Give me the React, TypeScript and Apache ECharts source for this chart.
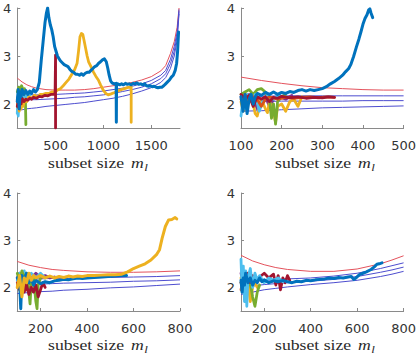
import React, { useEffect, useRef } from "react";
import * as echarts from "echarts";

type Pt = [number, number];

// MATLAB-style line colours
const BLUE = "#0072BD";
const ORANGE = "#D95319";
const YELLOW = "#EDB120";
const PURPLE = "#7E2F8E";
const GREEN = "#77AC30";
const CYAN = "#4DBEEE";
const DARKRED = "#A2142F";
const BAND_RED = "#e4525c";
const BAND_BLUE = "#4d4dcf";

// ---------- panel 1 : m from 100 to 1800 ----------
const bandX1 = [100, 150, 200, 250, 300, 400, 500, 600, 700, 800, 900, 1000, 1100, 1200, 1300, 1400, 1500, 1600, 1650, 1700, 1740, 1770, 1790];
const bandTop1 = [2.54, 2.46, 2.4, 2.36, 2.33, 2.3, 2.29, 2.29, 2.29, 2.3, 2.32, 2.35, 2.38, 2.41, 2.45, 2.5, 2.57, 2.69, 2.8, 3.05, 3.3, 3.6, 4.0];
const bandHi1 = [2.19, 2.19, 2.19, 2.19, 2.19, 2.19, 2.2, 2.21, 2.22, 2.23, 2.25, 2.27, 2.3, 2.33, 2.37, 2.42, 2.49, 2.6, 2.7, 2.93, 3.2, 3.5, 3.97];
const bandMid1 = [2.08, 2.08, 2.09, 2.09, 2.09, 2.1, 2.11, 2.12, 2.14, 2.15, 2.17, 2.19, 2.22, 2.26, 2.3, 2.35, 2.42, 2.53, 2.63, 2.84, 3.1, 3.42, 3.93];
const bandLo1 = [1.87, 1.88, 1.9, 1.91, 1.92, 1.95, 1.97, 1.99, 2.01, 2.03, 2.06, 2.09, 2.12, 2.16, 2.21, 2.27, 2.34, 2.45, 2.55, 2.74, 3.0, 3.33, 3.88];

const p1Orange: Pt[] = [[100, 2.05], [110, 1.9], [120, 2.1], [130, 2.0], [145, 2.15], [160, 2.05], [175, 2.15], [190, 2.1], [210, 2.14]];
const p1Yellow: Pt[] = [[100, 1.95], [110, 2.1], [120, 1.85], [130, 2.0], [140, 1.9], [150, 2.05], [160, 1.95], [180, 2.1], [200, 2.05], [220, 2.15], [250, 2.12], [280, 2.18], [310, 2.15], [340, 2.2], [370, 2.2], [400, 2.22], [430, 2.22], [460, 2.25], [490, 2.25], [520, 2.29], [550, 2.32], [580, 2.38], [610, 2.45], [640, 2.52], [670, 2.62], [700, 2.72], [725, 2.85], [740, 3.1], [755, 3.4], [770, 3.47], [785, 3.45], [800, 3.3], [815, 3.15], [830, 3.0], [845, 2.88], [870, 2.78], [895, 2.67], [920, 2.58], [947, 2.5], [970, 2.4], [998, 2.29], [1025, 2.22], [1050, 2.19], [1080, 2.21], [1117, 2.24], [1150, 2.27], [1185, 2.3], [1220, 2.32], [1250, 2.34], [1275, 2.35], [1290, 2.35], [1290, 1.62]];
const p1Purple: Pt[] = [[100, 2.1], [115, 2.2], [130, 1.95], [140, 2.15], [155, 2.0], [170, 2.2], [185, 2.1], [200, 2.15]];
const p1Green: Pt[] = [[100, 2.25], [115, 2.35], [130, 2.28], [145, 2.38], [160, 2.3], [175, 2.32], [185, 2.1], [190, 1.57]];
const p1Cyan: Pt[] = [[100, 1.8], [105, 2.1], [110, 1.75], [120, 2.15], [130, 1.95], [140, 2.2], [150, 2.05], [160, 2.15], [180, 2.1], [200, 2.2], [220, 2.15], [240, 2.22]];
const p1DarkRed: Pt[] = [[100, 1.95], [110, 2.05], [120, 1.9], [130, 2.1], [140, 2.0], [150, 2.12], [170, 2.05], [190, 2.1], [210, 2.08], [230, 2.12], [250, 2.1], [270, 2.14], [300, 2.12], [330, 2.16], [360, 2.15], [390, 2.18], [420, 2.17], [450, 2.2], [475, 2.2], [495, 2.22], [500, 3.02], [500, 1.5]];
const p1Blue: Pt[] = [[100, 2.05], [110, 2.3], [120, 1.9], [130, 2.25], [140, 2.15], [150, 2.3], [170, 2.2], [190, 2.28], [210, 2.2], [230, 2.27], [250, 2.22], [270, 2.3], [290, 2.25], [310, 2.3], [330, 2.45], [350, 2.9], [370, 3.3], [390, 3.7], [405, 3.9], [417, 4.0], [430, 3.8], [445, 3.65], [460, 3.55], [475, 3.4], [490, 3.2], [505, 3.1], [520, 3.0], [535, 2.95], [550, 2.9], [570, 2.86], [590, 2.82], [610, 2.8], [630, 2.78], [650, 2.72], [670, 2.68], [690, 2.66], [710, 2.62], [730, 2.62], [750, 2.6], [770, 2.63], [790, 2.6], [810, 2.64], [830, 2.66], [850, 2.66], [870, 2.7], [890, 2.74], [910, 2.78], [930, 2.8], [950, 2.85], [970, 2.88], [990, 2.92], [1010, 2.94], [1030, 2.88], [1045, 2.75], [1060, 2.6], [1075, 2.48], [1090, 2.44], [1110, 2.42], [1133, 2.43], [1135, 1.62], [1137, 2.42], [1150, 2.42], [1170, 2.4], [1190, 2.42], [1210, 2.4], [1230, 2.43], [1250, 2.41], [1270, 2.42], [1290, 2.4], [1310, 2.43], [1330, 2.42], [1350, 2.44], [1370, 2.41], [1390, 2.42], [1410, 2.4], [1430, 2.42], [1450, 2.38], [1470, 2.37], [1490, 2.38], [1510, 2.36], [1530, 2.37], [1550, 2.35], [1570, 2.34], [1590, 2.35], [1610, 2.35], [1630, 2.38], [1650, 2.42], [1670, 2.46], [1690, 2.5], [1710, 2.56], [1730, 2.6], [1750, 2.7], [1765, 2.85], [1775, 3.1], [1785, 3.5]];

// ---------- panel 2 : m from 100 to 500 ----------
const bandX2 = [100, 150, 200, 250, 300, 350, 400, 450, 500];
const bandTop2 = [2.56, 2.49, 2.43, 2.38, 2.34, 2.32, 2.3, 2.29, 2.29];
const bandHi2 = [2.16, 2.16, 2.17, 2.17, 2.17, 2.17, 2.17, 2.17, 2.17];
const bandMid2 = [2.05, 2.05, 2.06, 2.06, 2.06, 2.06, 2.07, 2.07, 2.07];
const bandLo2 = [1.85, 1.86, 1.88, 1.9, 1.92, 1.93, 1.94, 1.95, 1.96];

const p2Orange: Pt[] = [[100, 2.1], [110, 2.2], [120, 2.05], [130, 2.15], [140, 2.1], [150, 1.95], [160, 2.1], [170, 2.15], [190, 2.1], [210, 2.14], [230, 2.12], [250, 2.14], [270, 2.15], [290, 2.13], [310, 2.15], [330, 2.14]];
const p2Yellow: Pt[] = [[100, 2.05], [105, 1.85], [110, 1.9], [120, 2.15], [130, 2.0], [135, 1.8], [140, 1.75], [150, 2.1], [160, 1.9], [165, 1.82], [170, 2.05], [180, 1.85], [185, 1.62], [190, 1.95], [200, 2.0], [210, 1.85], [220, 2.05], [230, 2.1], [240, 1.95], [250, 2.15]];
const p2Purple: Pt[] = [[100, 2.15], [110, 2.05], [120, 2.2], [130, 2.1], [140, 1.9], [150, 2.05], [160, 2.15], [170, 1.95], [180, 2.1], [195, 2.15], [210, 2.1], [225, 2.18]];
const p2Green: Pt[] = [[100, 2.2], [110, 2.25], [120, 2.3], [130, 2.2], [140, 2.3], [150, 2.32], [160, 2.25], [170, 2.1], [175, 1.7], [180, 2.0], [185, 1.58], [190, 2.05], [200, 2.15], [210, 2.2]];
const p2Cyan: Pt[] = [[100, 1.75], [105, 2.1], [110, 1.9], [115, 2.2], [125, 2.05], [135, 2.2], [145, 1.85], [155, 2.1], [165, 2.18], [180, 2.1], [195, 2.2]];
const p2DarkRed: Pt[] = [[100, 2.2], [110, 2.1], [120, 2.18], [130, 1.95], [140, 2.15], [150, 2.1], [160, 2.15], [170, 2.05], [180, 2.14], [190, 2.12], [200, 2.16], [220, 2.13], [240, 2.15], [260, 2.12], [280, 2.14], [300, 2.13], [315, 2.15], [330, 2.14]];
const p2Blue: Pt[] = [[100, 2.15], [105, 1.85], [110, 2.2], [115, 1.8], [120, 2.1], [125, 2.2], [130, 2.0], [135, 2.15], [140, 2.22], [150, 2.18], [160, 2.24], [170, 2.2], [180, 2.25], [190, 2.2], [200, 2.24], [210, 2.22], [220, 2.26], [230, 2.24], [240, 2.28], [250, 2.3], [260, 2.27], [270, 2.3], [280, 2.28], [290, 2.3], [300, 2.32], [310, 2.36], [320, 2.42], [330, 2.47], [340, 2.53], [350, 2.6], [357, 2.67], [365, 2.74], [370, 2.82], [377, 2.99], [384, 3.19], [390, 3.35], [395, 3.5], [400, 3.66], [405, 3.78], [410, 3.86], [414, 3.96], [417, 3.98], [420, 3.89], [424, 3.8]];

// ---------- panel 3 : m from 100 to 800 ----------
const bandX3 = [100, 150, 200, 250, 300, 400, 500, 600, 700, 800];
const bandTop3 = [2.55, 2.47, 2.42, 2.38, 2.36, 2.33, 2.32, 2.32, 2.33, 2.35];
const bandHi3 = [2.18, 2.18, 2.18, 2.19, 2.19, 2.2, 2.21, 2.22, 2.23, 2.25];
const bandMid3 = [2.05, 2.06, 2.07, 2.08, 2.09, 2.1, 2.11, 2.13, 2.14, 2.16];
const bandLo3 = [1.87, 1.89, 1.91, 1.92, 1.94, 1.96, 1.99, 2.01, 2.04, 2.07];

const p3Orange: Pt[] = [[100, 2.0], [110, 2.2], [120, 2.1], [130, 2.25], [140, 1.95], [150, 2.15], [165, 2.05], [180, 2.2]];
const p3Purple: Pt[] = [[100, 2.2], [110, 2.3], [120, 2.1], [140, 2.25], [160, 2.2], [180, 2.3], [200, 2.2], [220, 2.25], [240, 2.2], [260, 2.22]];
const p3Green: Pt[] = [[100, 2.3], [110, 2.15], [120, 2.35], [130, 2.2], [140, 2.3], [150, 1.9], [155, 1.65], [160, 2.1], [170, 2.2], [180, 1.7], [185, 1.55], [190, 2.05], [200, 2.2]];
const p3Cyan: Pt[] = [[100, 2.15], [110, 2.3], [120, 2.0], [130, 2.35], [140, 2.1], [150, 2.25], [160, 2.3], [180, 2.2], [200, 2.3], [220, 2.2]];
const p3DarkRed: Pt[] = [[100, 2.1], [110, 1.95], [120, 2.15], [130, 1.9], [140, 2.05], [150, 1.85], [160, 2.0], [170, 1.9], [180, 2.05], [190, 1.8], [200, 1.95], [210, 2.1], [220, 2.0]];
const p3Blue: Pt[] = [[100, 2.2], [110, 2.1], [115, 1.55], [120, 2.25], [130, 2.15], [140, 2.3], [150, 2.1], [160, 2.2], [170, 2.05], [180, 2.15], [200, 2.08], [220, 2.12], [240, 2.1], [260, 2.14], [280, 2.15], [300, 2.17], [320, 2.16], [340, 2.18], [360, 2.2], [380, 2.19], [400, 2.2], [430, 2.21], [460, 2.22], [490, 2.23], [520, 2.24], [545, 2.25], [570, 2.25]];
const p3Yellow: Pt[] = [[100, 2.0], [110, 2.25], [120, 1.8], [130, 2.2], [140, 2.1], [150, 2.3], [160, 2.15], [170, 2.25], [180, 2.2], [200, 2.25], [220, 2.2], [240, 2.24], [260, 2.2], [280, 2.23], [300, 2.21], [320, 2.24], [340, 2.22], [360, 2.24], [380, 2.23], [400, 2.25], [430, 2.25], [460, 2.26], [490, 2.27], [520, 2.27], [550, 2.28], [575, 2.33], [600, 2.4], [625, 2.45], [650, 2.5], [675, 2.58], [700, 2.7], [712, 2.8], [723, 3.04], [737, 3.29], [751, 3.43], [765, 3.44], [779, 3.48], [786, 3.45]];

// ---------- panel 4 : m from 100 to 800 ----------
const bandX4 = [100, 150, 200, 250, 300, 400, 500, 600, 700, 750, 800];
const bandTop4 = [2.68, 2.56, 2.48, 2.42, 2.38, 2.34, 2.34, 2.39, 2.5, 2.58, 2.67];
const bandHi4 = [2.12, 2.13, 2.15, 2.16, 2.18, 2.2, 2.24, 2.3, 2.4, 2.46, 2.52];
const bandMid4 = [2.0, 2.03, 2.06, 2.08, 2.1, 2.13, 2.17, 2.23, 2.32, 2.37, 2.43];
const bandLo4 = [1.85, 1.9, 1.95, 1.98, 2.01, 2.06, 2.1, 2.15, 2.23, 2.28, 2.34];

const p4Orange: Pt[] = [[100, 1.95], [110, 2.2], [120, 2.05], [130, 2.25], [140, 1.9], [150, 2.1]];
const p4Yellow: Pt[] = [[100, 2.2], [110, 2.0], [120, 1.75], [130, 2.1], [140, 1.7], [150, 2.0], [160, 2.1], [170, 2.0]];
const p4Purple: Pt[] = [[100, 2.3], [110, 2.1], [120, 2.25], [130, 2.0], [140, 2.2], [150, 2.1], [160, 2.2]];
const p4Green: Pt[] = [[100, 2.1], [110, 2.2], [120, 2.0], [140, 2.1], [150, 1.8], [160, 1.6], [170, 1.9], [180, 2.05]];
const p4Cyan: Pt[] = [[100, 2.6], [105, 1.9], [110, 2.45], [115, 1.7], [120, 2.35], [125, 1.6], [130, 2.2], [140, 2.4], [150, 2.0], [160, 2.3], [170, 2.15], [180, 2.25], [200, 2.1], [220, 2.2], [240, 2.15], [260, 2.2], [280, 2.12]];
const p4DarkRed: Pt[] = [[100, 2.1], [110, 2.25], [120, 1.95], [130, 2.3], [140, 2.1], [150, 2.25], [160, 2.15], [180, 2.22], [200, 2.3], [220, 2.2], [240, 2.28], [250, 2.05], [260, 2.25], [270, 1.95], [280, 2.2], [290, 2.1], [300, 2.25], [310, 2.15]];
const p4Blue: Pt[] = [[100, 2.15], [105, 1.9], [110, 2.2], [115, 2.05], [120, 2.3], [130, 2.1], [140, 2.2], [150, 2.05], [160, 2.15], [170, 2.1], [180, 2.2], [190, 2.12], [200, 2.16], [220, 2.1], [240, 2.14], [260, 2.12], [280, 2.15], [300, 2.12], [320, 2.1], [340, 2.13], [360, 2.12], [380, 2.15], [400, 2.14], [420, 2.16], [440, 2.17], [460, 2.18], [480, 2.2], [500, 2.19], [520, 2.21], [540, 2.2], [560, 2.22], [575, 2.23], [585, 2.17], [595, 2.2], [610, 2.27], [625, 2.3], [640, 2.33], [660, 2.38], [675, 2.44], [685, 2.49], [695, 2.5], [707, 2.52]];

// ---------- axes ----------
const xTicks1 = [500, 1000, 1500];
const xTicks2 = [100, 200, 300, 400, 500];
const xTicks34 = [200, 400, 600, 800];
const yTicks = [2, 3, 4];

const zip = (xs: number[], ys: number[]): Pt[] => xs.map((x, i) => [x, ys[i]]);

type Panel = {
  xMin: number;
  xMax: number;
  xTicks: number[];
  bandX: number[];
  bands: number[][];
  traces: { data: Pt[]; color: string; width: number }[];
};

const panels: Panel[] = [
  {
    xMin: 100, xMax: 1800, xTicks: xTicks1, bandX: bandX1,
    bands: [bandTop1, bandHi1, bandMid1, bandLo1],
    traces: [
      { data: p1Orange, color: ORANGE, width: 2.8 },
      { data: p1Purple, color: PURPLE, width: 2.8 },
      { data: p1Green, color: GREEN, width: 2.8 },
      { data: p1Cyan, color: CYAN, width: 2.8 },
      { data: p1Yellow, color: YELLOW, width: 2.8 },
      { data: p1DarkRed, color: DARKRED, width: 2.8 },
      { data: p1Blue, color: BLUE, width: 3 },
    ],
  },
  {
    xMin: 100, xMax: 500, xTicks: xTicks2, bandX: bandX2,
    bands: [bandTop2, bandHi2, bandMid2, bandLo2],
    traces: [
      { data: p2Purple, color: PURPLE, width: 2.8 },
      { data: p2Yellow, color: YELLOW, width: 2.8 },
      { data: p2Green, color: GREEN, width: 2.8 },
      { data: p2Cyan, color: CYAN, width: 2.8 },
      { data: p2Orange, color: ORANGE, width: 2.8 },
      { data: p2DarkRed, color: DARKRED, width: 2.8 },
      { data: p2Blue, color: BLUE, width: 3 },
    ],
  },
  {
    xMin: 100, xMax: 800, xTicks: xTicks34, bandX: bandX3,
    bands: [bandTop3, bandHi3, bandMid3, bandLo3],
    traces: [
      { data: p3Orange, color: ORANGE, width: 2.8 },
      { data: p3Purple, color: PURPLE, width: 2.8 },
      { data: p3Cyan, color: CYAN, width: 2.8 },
      { data: p3Green, color: GREEN, width: 2.8 },
      { data: p3DarkRed, color: DARKRED, width: 2.8 },
      { data: p3Blue, color: BLUE, width: 3 },
      { data: p3Yellow, color: YELLOW, width: 3 },
    ],
  },
  {
    xMin: 100, xMax: 800, xTicks: xTicks34, bandX: bandX4,
    bands: [bandTop4, bandHi4, bandMid4, bandLo4],
    traces: [
      { data: p4Orange, color: ORANGE, width: 2.8 },
      { data: p4Purple, color: PURPLE, width: 2.8 },
      { data: p4Yellow, color: YELLOW, width: 2.8 },
      { data: p4Green, color: GREEN, width: 2.8 },
      { data: p4DarkRed, color: DARKRED, width: 2.8 },
      { data: p4Cyan, color: CYAN, width: 2.8 },
      { data: p4Blue, color: BLUE, width: 3 },
    ],
  },
];

const grids = [
  { left: 14, top: 8, width: 166, height: 120 },
  { left: 241, top: 8, width: 165, height: 120 },
  { left: 14, top: 193, width: 166, height: 118 },
  { left: 241, top: 193, width: 165, height: 118 },
];
const titleY = [163, 163, 345, 345];

const AXIS_GREY = "#8a8a8a";
const TICK_FONT = "DejaVu Sans";
const SERIF_NAME = '"Liberation Serif", "DejaVu Serif", serif';
const LABEL_SIZE = 15;
const FONT_UPRIGHT = `${LABEL_SIZE}px ${SERIF_NAME}`;
const FONT_ITALIC = `italic ${LABEL_SIZE}px ${SERIF_NAME}`;
const FONT_SUB = `italic 11px ${SERIF_NAME}`;

function measure(text: string, font: string): number {
  const ctx = document.createElement("canvas").getContext("2d");
  if (!ctx) return text.length * 7;
  ctx.font = font;
  return ctx.measureText(text).width;
}

function buildOption(): echarts.EChartsOption {
  const series: any[] = [];
  panels.forEach((p, i) => {
    p.bands.forEach((b, k) => {
      series.push({
        type: "line", xAxisIndex: i, yAxisIndex: i, data: zip(p.bandX, b),
        showSymbol: false, symbol: "none", smooth: false, silent: true,
        lineStyle: { color: k === 0 ? BAND_RED : BAND_BLUE, width: 1 },
      });
    });
    p.traces.forEach((t) => {
      series.push({
        type: "line", xAxisIndex: i, yAxisIndex: i, data: t.data,
        showSymbol: false, symbol: "none", silent: true,
        lineStyle: { color: t.color, width: t.width, join: "round", cap: "round" },
      });
    });
  });

  const w1 = measure("subset size ", FONT_UPRIGHT);
  const wm = measure("m", FONT_ITALIC);

  // axis title "subset size m_l" under each panel
  const graphic: any[] = grids.map((g, i) => ({
    type: "group",
    x: g.left + 34,
    y: titleY[i],
    scaleX: 1.18,
    silent: true,
    children: [
      { type: "text", x: 0, y: 0, style: { text: "subset size", font: FONT_UPRIGHT, fill: "#2a2a2a", textVerticalAlign: "middle" } },
      { type: "text", x: w1 + 2, y: 0, style: { text: "m", font: FONT_ITALIC, fill: "#2a2a2a", textVerticalAlign: "middle" } },
      { type: "text", x: w1 + 2 + wm + 0.5, y: 4, style: { text: "l", font: FONT_SUB, fill: "#2a2a2a", textVerticalAlign: "middle" } },
    ],
  }));

  return {
    animation: false,
    backgroundColor: "#ffffff",
    grid: grids.map((g) => ({ ...g, containLabel: false })),
    xAxis: panels.map((p, i) => ({
      type: "value", gridIndex: i, min: p.xMin, max: p.xMax,
      axisLine: { show: true, onZero: false, lineStyle: { color: AXIS_GREY, width: 1 } },
      axisTick: { show: true, inside: true, length: 3, customValues: p.xTicks, lineStyle: { color: AXIS_GREY } },
      axisLabel: {
        customValues: p.xTicks, fontFamily: TICK_FONT, fontSize: 13, color: "#333", margin: 11,
        formatter: (v: number) => String(v),
      },
      splitLine: { show: false },
    })),
    yAxis: panels.map((_, i) => ({
      type: "value", gridIndex: i, min: 1.5, max: 4,
      axisLine: { show: true, onZero: false, lineStyle: { color: AXIS_GREY, width: 1 } },
      axisTick: { show: true, inside: true, length: 3, customValues: yTicks, lineStyle: { color: AXIS_GREY } },
      axisLabel: {
        customValues: yTicks, fontFamily: TICK_FONT, fontSize: 13, color: "#333", margin: 6,
        formatter: (v: number) => String(v),
      },
      splitLine: { show: false },
    })),
    series,
    graphic,
  };
}

export default function App() {
  const ref = useRef<HTMLDivElement>(null);
  useEffect(() => {
    if (!ref.current) return;
    const chart = echarts.init(ref.current, undefined, { renderer: "svg" });
    chart.setOption(buildOption());
    return () => chart.dispose();
  }, []);
  return (
    <div
      ref={ref}
      style={{ position: "absolute", left: 0, top: 0, width: 419, height: 357, background: "#fff" }}
    />
  );
}
